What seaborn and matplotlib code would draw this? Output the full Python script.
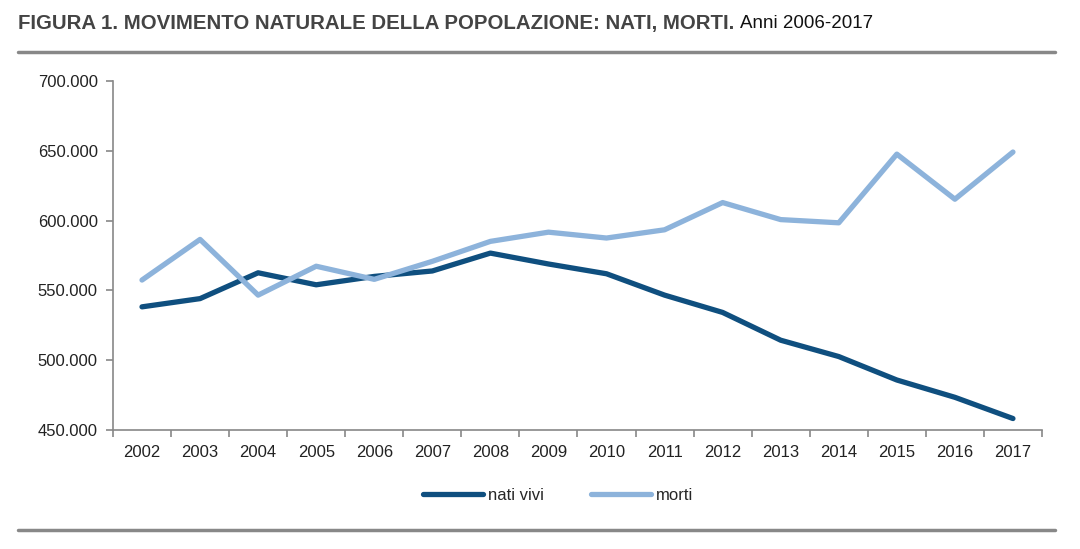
import numpy as np
import pandas as pd
import matplotlib
matplotlib.use('Agg')
import matplotlib.pyplot as plt
import matplotlib.ticker as mticker
from matplotlib.lines import Line2D
import seaborn as sns

anni = list(range(2002, 2018))
nati_vivi = [538200, 544100, 562600, 554000, 560000, 563900, 576700, 568900,
             561900, 546600, 534200, 514300, 502600, 485800, 473400, 458200]
morti = [557400, 586500, 546600, 567300, 557900, 570800, 585100, 591700,
         587500, 593400, 612900, 600700, 598400, 647600, 615300, 649100]

df = pd.DataFrame({
    'anno': anni * 2,
    'valore': nati_vivi + morti,
    'serie': ['nati vivi'] * len(anni) + ['morti'] * len(anni),
})

sns.set_style('ticks')
plt.rcParams['font.family'] = ['Liberation Sans', 'DejaVu Sans']

colori = {'nati vivi': '#0f4f7f', 'morti': '#8db3db'}

fig = plt.figure(figsize=(10.8, 5.49), dpi=100)
ax = fig.add_axes([0.1046, 0.2168, 0.8602, 0.6357])

sns.lineplot(data=df, x='anno', y='valore', hue='serie', palette=colori,
             linewidth=3.8, ax=ax, legend=False, solid_capstyle='round')

ax.set_xlim(2001.5, 2017.5)
ax.set_ylim(450000, 700000)
ax.set_yticks(np.arange(450000, 700001, 50000))
ax.yaxis.set_major_formatter(mticker.FuncFormatter(lambda v, p: f'{int(v):,}'.replace(',', '.')))
ax.set_xticks(anni)
ax.set_xticks(np.arange(2001.5, 2018, 1), minor=True)
ax.tick_params(axis='x', which='major', bottom=True, length=0, pad=11, labelsize=12,
               labelcolor='#222222')
ax.tick_params(axis='x', which='minor', bottom=True, length=5, width=1.2, color='#888888',
               direction='out')
ax.tick_params(axis='y', which='major', left=True, length=5, width=1.2, color='#888888',
               direction='out', pad=6, labelsize=12, labelcolor='#222222')
ax.tick_params(axis='y', which='minor', left=False)
ax.set_xlabel('')
ax.set_ylabel('')
for s in ['top', 'right']:
    ax.spines[s].set_visible(False)
for s in ['left', 'bottom']:
    ax.spines[s].set_color('#888888')
    ax.spines[s].set_linewidth(1.2)

handles = [Line2D([0], [0], color=colori['nati vivi'], lw=3.8, solid_capstyle='round'),
           Line2D([0], [0], color=colori['morti'], lw=3.8, solid_capstyle='round')]
fig.legend(handles, ['nati vivi', 'morti'], loc='center', bbox_to_anchor=(0.517, 0.098),
           ncol=2, frameon=False, fontsize=12, handlelength=3.6, handletextpad=0.3,
           columnspacing=2.8)

t1 = fig.text(0.017, 0.958, 'FIGURA 1. MOVIMENTO NATURALE DELLA POPOLAZIONE: NATI, MORTI.',
              fontsize=14.7, fontweight='bold', color='#444444', va='center', ha='left')
fig.canvas.draw()
bb = t1.get_window_extent(renderer=fig.canvas.get_renderer())
x2 = (bb.x1 + 5) / fig.bbox.width
fig.text(x2, 0.958, 'Anni 2006-2017', fontsize=13.5, color='#111111', va='center', ha='left')

fig.add_artist(Line2D([0.017, 0.977], [0.905, 0.905], color='#888888', lw=2.5))
fig.add_artist(Line2D([0.017, 0.977], [0.035, 0.035], color='#888888', lw=2.5))

fig.savefig('out.png', dpi=100, facecolor='white')
